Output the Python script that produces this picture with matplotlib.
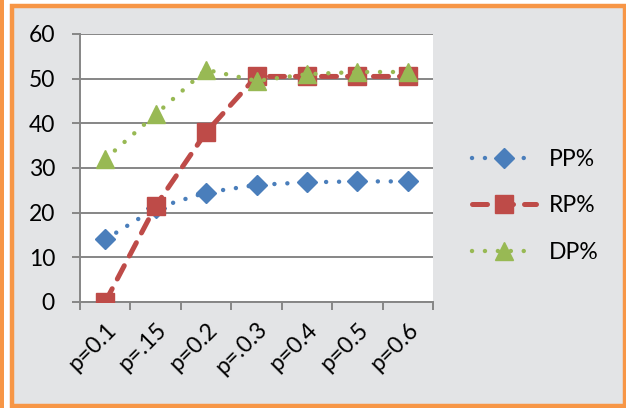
import matplotlib
matplotlib.use("Agg")
import matplotlib.pyplot as plt
from matplotlib.patches import Rectangle

# data
categories = ["p=0.1", "p=.15", "p=0.2", "p=.0.3", "p=0.4", "p=0.5", "p=0.6"]
pp = [14, 21, 24.5, 26.2, 26.8, 27, 27]
rp = [0, 21.5, 38, 50.5, 50.5, 50.5, 50.5]
dp = [32, 42, 52, 49.5, 51, 51.5, 51.5]

plt.rcParams["font.family"] = ["Lato", "DejaVu Sans"]
FS = 16.5

fig = plt.figure(figsize=(6.26, 4.08), dpi=100)
W, H = 626, 408

# marble-ish background inside the orange frame
fig.add_artist(Rectangle((0, 0), 1, 1, transform=fig.transFigure,
                         facecolor="white", edgecolor="none", zorder=-3))
fig.add_artist(Rectangle((12 / W, 3 / H), 612 / W, 400 / H, transform=fig.transFigure,
                         facecolor="#e3e4e6", edgecolor="none", zorder=-2))
# orange frame
orange = "#f79646"
fig.add_artist(Rectangle((11.5 / W, 2.5 / H), 613 / W, 400 / H, transform=fig.transFigure,
                         facecolor="none", edgecolor=orange, linewidth=3.2, zorder=5))
fig.add_artist(Rectangle((0, 0), 4 / W, 1, transform=fig.transFigure,
                         facecolor=orange, edgecolor="none", zorder=5))

ax = fig.add_axes([80 / W, 1 - 302 / H, 353 / W, 268 / H])
ax.set_facecolor("white")
x = list(range(len(categories)))

blue = "#4a7ebb"
red = "#be4b48"
green = "#98b954"

ax.plot(x, pp, color=blue, lw=3.2, linestyle=(0, (0.01, 2.9)), dash_capstyle="round",
        marker="D", markersize=10, markerfacecolor=blue, markeredgecolor=blue, label="PP%", zorder=3)
ax.plot(x, rp, color=red, lw=3.6, linestyle=(0, (3.0, 2.2)), dash_capstyle="round",
        marker="s", markersize=13, markerfacecolor=red, markeredgecolor=red, label="RP%", zorder=4)
ax.plot(x, dp, color=green, lw=3.2, linestyle=(0, (0.01, 2.9)), dash_capstyle="round",
        marker="^", markersize=13, markerfacecolor=green, markeredgecolor=green, label="DP%", zorder=5)

ax.set_xlim(-0.5, len(categories) - 0.5)
ax.set_ylim(0, 60)
ax.set_yticks(range(0, 61, 10))
ax.yaxis.grid(True, color="#868686", lw=1.4)
ax.set_axisbelow(True)

ax.set_xticks(x)
ax.set_xticklabels(categories, rotation=45, ha="right", va="top", rotation_mode="anchor")
ax.set_xticks([i - 0.5 for i in range(len(categories) + 1)], minor=True)
ax.tick_params(axis="x", which="major", length=0, pad=12, labelsize=FS)
ax.tick_params(axis="x", which="minor", length=6, width=1.4, color="#868686")
ax.tick_params(axis="y", length=6, width=1.4, color="#868686", pad=12, labelsize=FS)

for side in ["top", "right"]:
    ax.spines[side].set_visible(False)
for side in ["left", "bottom"]:
    ax.spines[side].set_color("#868686")
    ax.spines[side].set_linewidth(1.4)

fig.legend(loc="center left", bbox_to_anchor=(472 / W, 1 - 206 / H), frameon=False,
           fontsize=FS, handlelength=2.8, handletextpad=0.55, labelspacing=1.1,
           borderpad=0, borderaxespad=0, numpoints=1)

fig.savefig("out.png", dpi=100)
